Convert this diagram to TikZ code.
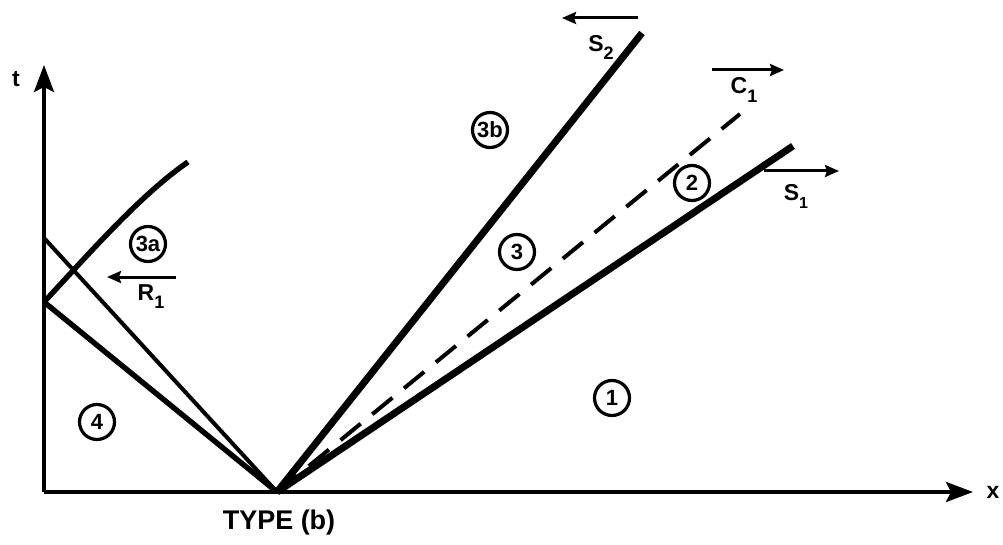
\documentclass[tikz,border=0pt]{standalone}
\usepackage{fontspec}
\setmainfont{Liberation Sans}
\usetikzlibrary{arrows.meta}
\begin{document}
\begin{tikzpicture}[x=1pt,y=-1pt,
  region/.style={circle,draw,line width=3.2pt,minimum size=35pt,inner sep=0pt,font=\bfseries\fontsize{22}{22}\selectfont},
  lbl/.style={font=\bfseries\fontsize{23}{23}\selectfont,inner sep=0pt},
  axisline/.style={line width=3.6pt,-{Stealth[length=27pt,width=20pt,inset=5pt]}},
  wave/.style={line width=7pt},
  thinwave/.style={line width=4pt},
  midwave/.style={line width=5.4pt},
  contact/.style={line width=4pt,dash pattern=on 26pt off 15pt},
  dirarrow/.style={line width=3pt,-{Stealth[length=14pt,width=12pt,inset=2pt]}}
]
\useasboundingbox (0,0) rectangle (1003,545);
% key points
\coordinate (O) at (44,492);
\coordinate (F) at (277,492);
\coordinate (tend) at (44,65);
\coordinate (xend) at (973,492);
\coordinate (S2end) at (642,33);
\coordinate (C1end) at (740,114);
\coordinate (S1end) at (793,146);
\coordinate (RA) at (44,238);
\coordinate (RB) at (44,302);
\coordinate (Cend) at (188,162);
% axes
\draw[axisline] (O) -- (tend);
\draw[axisline] (O) -- (xend);
\node[lbl] (tlab) at (16,79) {t};
\node[lbl] (xlab) at (993,492) {x};
% right fan
\draw[wave] (F) -- (S2end);
\draw[contact] (F) -- (C1end);
\draw[wave] (F) -- (S1end);
% left fan
\draw[thinwave] (RA) -- (F);
\draw[midwave] (RB) -- (F);
\draw[midwave] (RB) .. controls (88,255) and (140,195) .. (Cend);
% direction arrows
\coordinate (s2a) at (638,18);
\coordinate (s2b) at (562,18);
\draw[dirarrow] (s2a) -- (s2b);
\coordinate (c1a) at (712,70);
\coordinate (c1b) at (784,70);
\draw[dirarrow] (c1a) -- (c1b);
\coordinate (s1a) at (764,171);
\coordinate (s1b) at (839,171);
\draw[dirarrow] (s1a) -- (s1b);
\coordinate (r1a) at (176,277);
\coordinate (r1b) at (107,277);
\draw[dirarrow] (r1a) -- (r1b);
% wave labels
\node[lbl] (S2lab) at (601,47) {S\raisebox{-8pt}{\fontsize{18}{18}\selectfont 2}};
\node[lbl] (C1lab) at (744,90) {C\raisebox{-9pt}{\fontsize{18}{18}\selectfont 1}};
\node[lbl] (S1lab) at (796,196) {S\raisebox{-8pt}{\fontsize{16}{16}\selectfont 1}};
\node[lbl] (R1lab) at (151,297) {R\raisebox{-8pt}{\fontsize{18}{18}\selectfont 1}};
% regions
\node[region] (r1) at (612,398) {1};
\node[region] (r2) at (692,183) {2};
\node[region] (r3) at (517,252) {3};
\node[region] (r3a) at (148,244) {3a};
\node[region] (r3b) at (490,130) {3b};
\node[region] (r4) at (97,422) {4};
% caption
\node[font=\bfseries\fontsize{27}{27}\selectfont,inner sep=0pt] (cap) at (279,523) {TYPE (b)};
\end{tikzpicture}
\end{document}
